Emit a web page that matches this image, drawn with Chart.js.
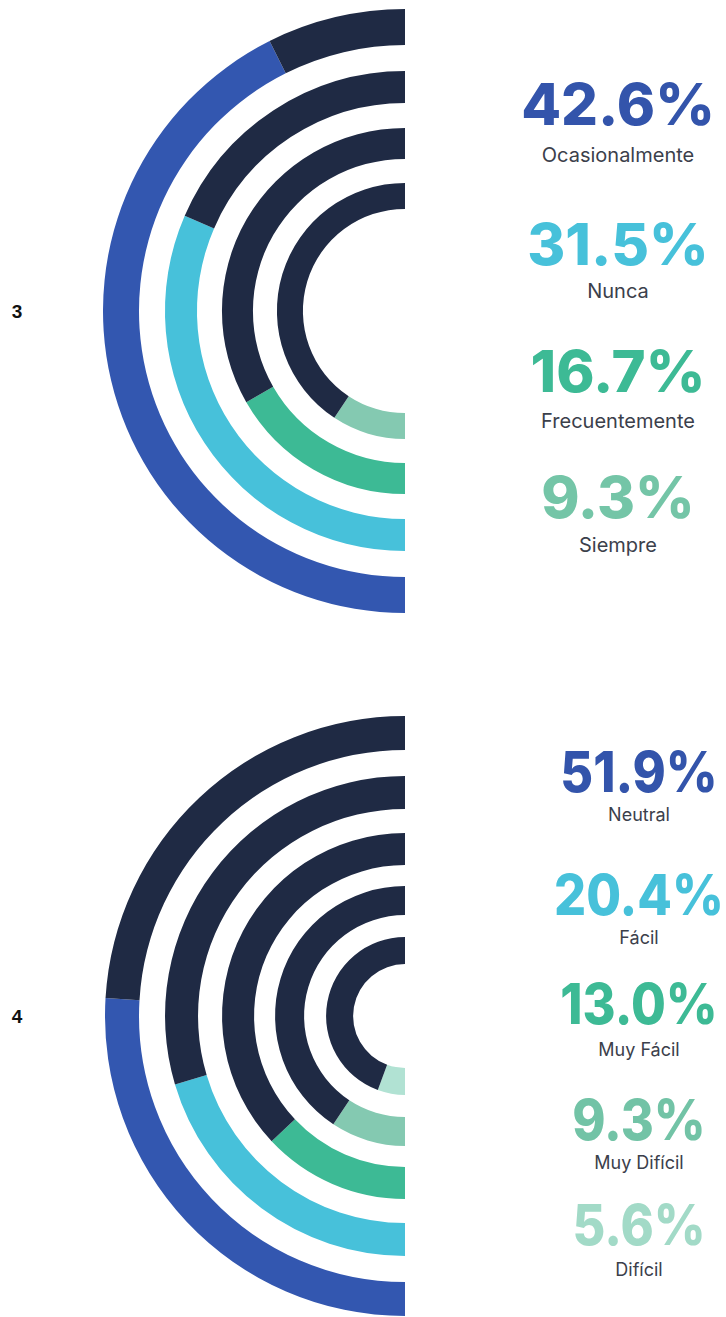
<!DOCTYPE html>
<html lang="es">
<head>
<meta charset="utf-8">
<title>Resultados 3 y 4</title>
<script src="https://cdn.jsdelivr.net/npm/chart.js@4.4.1/dist/chart.umd.min.js"></script>
<style>
  html, body { margin: 0; padding: 0; background: #ffffff; }
  body { width: 726px; height: 1317px; position: relative; overflow: hidden;
         font-family: Inter, "Liberation Sans", Arial, sans-serif; }
  canvas { position: absolute; }
  .num { position: absolute; line-height: 1; font-weight: 800; white-space: nowrap; }
  .sub { position: absolute; transform: translate(-50%, -50%); line-height: 1;
         color: #3b404b; white-space: nowrap; }
  .idx { position: absolute; transform: translate(-50%, -50%); line-height: 1;
         font-family: "Liberation Sans", Arial, sans-serif; font-weight: 700;
         font-size: 19px; color: #111111; }
</style>
</head>
<body>
<div class="idx" style="left:17px;top:311px">3</div>
<div class="idx" style="left:17px;top:1016px">4</div>
<canvas id="g3" width="302" height="604" style="left:103px;top:9px"></canvas>
<canvas id="g4" width="300" height="600" style="left:105px;top:716px"></canvas>
<div id="labels"></div>
<script>
// Pregunta 3: frecuencia
const categorias3 = ['Ocasionalmente', 'Nunca', 'Frecuentemente', 'Siempre'];
const valores3 = [42.6, 31.5, 16.7, 9.3];
// porcentaje que representa el medio anillo completo
const escala3 = [50, 50, 50, 50];

// Pregunta 4: dificultad
const categorias4 = ['Neutral', 'Fácil', 'Muy Fácil', 'Muy Difícil', 'Difícil'];
const valores4 = [51.9, 20.4, 13.0, 9.3, 5.6];
const escala4 = [100, 50, 50, 50, 50];

// estilos
const NAVY = '#1f2a44';
const colores3 = ['#3357b0', '#47c1da', '#3dba95', '#84c9b1'];
const texto3 = ['#3354ab', '#47c1da', '#3dba95', '#74c5a7'];
const colores4 = ['#3357b0', '#47c1da', '#3dba95', '#84c9b1', '#b1e2d3'];
const texto4 = ['#3354ab', '#47c1da', '#3dba95', '#72c3a6', '#a2dac7'];
const grosor3 = [36, 32, 31, 26], huecos3 = [26, 25, 24];
const grosor4 = [34, 33, 32, 29, 27], huecos4 = [26, 24, 21, 22];

function anillos(valores, escala, colores, grosor, huecos) {
  const ds = [];
  valores.forEach((v, i) => {
    ds.push({
      data: [v, escala[i] - v],
      backgroundColor: [colores[i], NAVY],
      borderWidth: 0,
      weight: grosor[i]
    });
    if (i < huecos.length) {
      ds.push({ data: [1], backgroundColor: 'rgba(0,0,0,0)', borderWidth: 0, weight: huecos[i] });
    }
  });
  return ds;
}

function grafico(id, valores, escala, colores, grosor, huecos, cutout) {
  new Chart(document.getElementById(id), {
    type: 'doughnut',
    data: { labels: ['valor', 'resto'], datasets: anillos(valores, escala, colores, grosor, huecos) },
    options: {
      responsive: false,
      animation: false,
      events: [],
      rotation: 180,
      circumference: 180,
      cutout: cutout,
      layout: { padding: 0 },
      plugins: { legend: { display: false }, tooltip: { enabled: false } }
    }
  });
}

grafico('g3', valores3, escala3, colores3, grosor3, huecos3, '33.8%');
grafico('g4', valores4, escala4, colores4, grosor4, huecos4, '17.3%');

// etiquetas de la derecha
const capa = document.getElementById('labels');
function etiquetas(categorias, valores, colores, cx, yNum, ySub, size, ancho, subSize) {
  categorias.forEach((c, i) => {
    const n = document.createElement('div');
    n.className = 'num';
    n.style.left = cx + 'px';
    n.style.top = yNum[i] + 'px';
    n.style.fontSize = size + 'px';
    n.style.color = colores[i];
    n.style.transform = 'translate(-50%, -50%) scaleX(' + ancho + ')';
    n.textContent = valores[i].toFixed(1) + '%';
    capa.appendChild(n);
    const s = document.createElement('div');
    s.className = 'sub';
    s.style.left = cx + 'px';
    s.style.top = ySub[i] + 'px';
    s.style.fontSize = subSize + 'px';
    s.textContent = c;
    capa.appendChild(s);
  });
}
etiquetas(categorias3, valores3, texto3, 618, [104, 244, 371, 497], [155, 291, 421, 545], 58, 1, 20);
etiquetas(categorias4, valores4, texto4, 639, [772, 895, 1004, 1120, 1225], [815, 938, 1050, 1163, 1270], 56, 0.9, 18);
</script>
</body>
</html>
